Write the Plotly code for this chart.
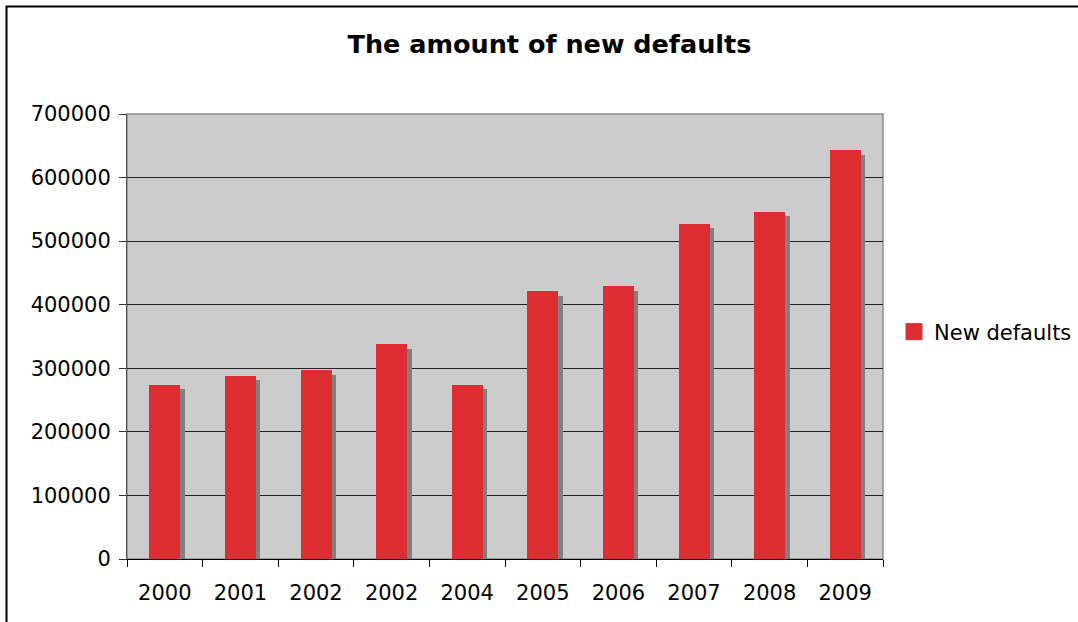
import plotly.graph_objects as go

# ---- data ----
categories = ["2000", "2001", "2002", "2002", "2004", "2005", "2006", "2007", "2008", "2009"]
new_defaults = [274000, 288000, 297000, 338000, 274000, 421000, 429000, 527000, 546000, 643000]
y_ticks = [0, 100000, 200000, 300000, 400000, 500000, 600000, 700000]
series_name = "New defaults"
title_text = "The amount of new defaults"

# ---- style ----
RED = "#DD2D32"
SHADOW = "#808080"
FONT = "DejaVu Sans"
BAR_W = 0.41
SHADOW_DX = 0.06      # category units (~4.5 px)
SHADOW_DY = 7000      # value units (~4.5 px)

W, H = 1078, 622
L, R, T, B = 127, 195, 114, 63
plot_w = W - L - R
plot_h = H - T - B

pos = list(range(len(categories)))
bounds = [p - 0.5 for p in pos] + [pos[-1] + 0.5]

fig = go.Figure()
fig.add_trace(go.Bar(
    x=[p + SHADOW_DX for p in pos], y=[v - SHADOW_DY for v in new_defaults],
    width=BAR_W, marker=dict(color=SHADOW, line=dict(width=0)),
    showlegend=False, hoverinfo="skip"))
fig.add_trace(go.Bar(
    x=pos, y=new_defaults, width=BAR_W, name=series_name,
    marker=dict(color=RED, line=dict(width=0)),
    showlegend=False, legendgroup="nd",
    customdata=categories, hovertemplate="%{customdata}: %{y}<extra></extra>"))
# legend entry
fig.add_trace(go.Scatter(
    x=[None], y=[None], mode="markers", name=series_name, legendgroup="nd",
    marker=dict(symbol="square", size=16, color=RED, line=dict(width=1, color=RED))))

fig.update_layout(
    width=W, height=H, autosize=False,
    margin=dict(l=L, r=R, t=T, b=B, pad=0, autoexpand=False),
    paper_bgcolor="white", plot_bgcolor="#CCCCCC",
    barmode="overlay", bargap=0,
    font=dict(family=FONT, size=21, color="black"),
    title=dict(text="<b>" + title_text + "</b>", font=dict(family=FONT, size=25.5, color="black"),
               x=(549.5 - L) / plot_w, xref="paper", xanchor="center",
               y=1 - 44 / H, yref="container", yanchor="middle"),
    legend=dict(x=(894 - L) / plot_w, xanchor="left", y=(H - B - 332) / plot_h, yanchor="middle",
                font=dict(family=FONT, size=21, color="black"), bgcolor="rgba(0,0,0,0)",
                borderwidth=0),
    xaxis=dict(range=[-0.5, len(categories) - 0.5], tickmode="array", tickvals=pos,
               ticktext=categories, ticks="", showgrid=False, zeroline=False,
               showline=True, linecolor="black", linewidth=1,
               ticklabelstandoff=15,
               minor=dict(tickmode="array", tickvals=bounds, ticks="outside", ticklen=7,
                          tickcolor="black", tickwidth=1, showgrid=False)),
    yaxis=dict(range=[0, 700000], tickmode="array", tickvals=y_ticks,
               ticktext=[str(t) for t in y_ticks], ticks="outside", ticklen=7,
               tickcolor="#333333", showgrid=True, gridcolor="#222222", gridwidth=1,
               zeroline=False, showline=True, linecolor="#555555", linewidth=1,
               ticklabelstandoff=4),
    shapes=[
        dict(type="rect", xref="paper", yref="paper", x0=0, x1=1, y0=0, y1=1,
             line=dict(color="#8C8C8C", width=1.5), layer="below"),
        dict(type="rect", xref="paper", yref="paper",
             x0=(6.5 - L) / plot_w, x1=2.0, y0=-1.0, y1=(H - B - 6.5) / plot_h,
             line=dict(color="black", width=2), layer="above"),
    ],
)

fig.write_html("out.html")
